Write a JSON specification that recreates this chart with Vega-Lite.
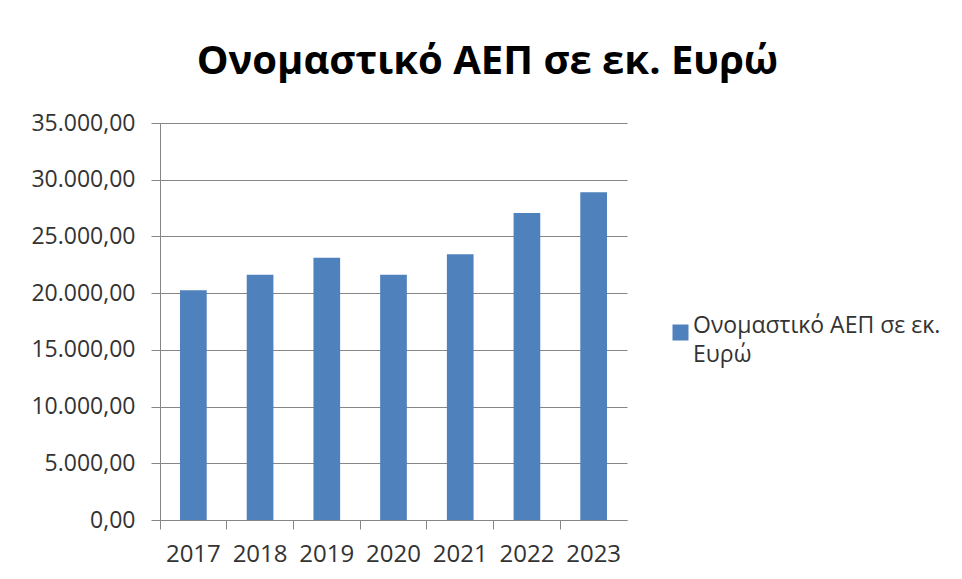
{
  "$schema": "https://vega.github.io/schema/vega-lite/v6.json",
  "width": 467,
  "height": 397,
  "autosize": {"type": "none"},
  "padding": {"left": 160, "top": 123, "right": 335, "bottom": 59},
  "background": "white",
  "config": {
    "locale": {"number": {"decimal": ",", "thousands": ".", "grouping": [3], "currency": ["", " €"]}},
    "view": {"stroke": null},
    "font": "Open Sans",
    "style": {"guide-label": {"lineHeight": 29}}
  },
  "title": {
    "text": "Ονομαστικό ΑΕΠ σε εκ. Ευρώ",
    "font": "Open Sans",
    "fontSize": 40,
    "fontWeight": "bold",
    "color": "#000000",
    "anchor": "middle",
    "frame": "group",
    "dx": 94,
    "baseline": "alphabetic",
    "offset": -2
  },
  "data": {
    "values": [
      {"year": "2017", "value": 20250, "series": "Ονομαστικό ΑΕΠ σε εκ. Ευρώ"},
      {"year": "2018", "value": 21630, "series": "Ονομαστικό ΑΕΠ σε εκ. Ευρώ"},
      {"year": "2019", "value": 23130, "series": "Ονομαστικό ΑΕΠ σε εκ. Ευρώ"},
      {"year": "2020", "value": 21630, "series": "Ονομαστικό ΑΕΠ σε εκ. Ευρώ"},
      {"year": "2021", "value": 23420, "series": "Ονομαστικό ΑΕΠ σε εκ. Ευρώ"},
      {"year": "2022", "value": 27060, "series": "Ονομαστικό ΑΕΠ σε εκ. Ευρώ"},
      {"year": "2023", "value": 28890, "series": "Ονομαστικό ΑΕΠ σε εκ. Ευρώ"}
    ]
  },
  "mark": {"type": "bar", "width": {"band": 0.4}},
  "encoding": {
    "x": {
      "field": "year",
      "type": "ordinal",
      "scale": {"paddingInner": 0, "paddingOuter": 0},
      "axis": {
        "title": null,
        "labelAngle": 0,
        "labelFont": "Open Sans",
        "labelFontSize": 24,
        "labelColor": "#333333",
        "labelPadding": 13,
        "tickSize": 9,
        "tickColor": "#868686",
        "domainColor": "#868686",
        "bandPosition": 0,
        "grid": false
      }
    },
    "y": {
      "field": "value",
      "type": "quantitative",
      "scale": {"domain": [0, 35000], "nice": false},
      "axis": {
        "title": null,
        "values": [0, 5000, 10000, 15000, 20000, 25000, 30000, 35000],
        "format": ",.2f",
        "labelFont": "Open Sans",
        "labelFontSize": 23,
        "labelColor": "#333333",
        "labelPadding": 16,
        "tickSize": 9,
        "tickColor": "#868686",
        "domainColor": "#868686",
        "gridColor": "#868686",
        "grid": true
      }
    },
    "color": {
      "field": "series",
      "type": "nominal",
      "scale": {"range": ["#4f81bd"]},
      "legend": {
        "title": null,
        "orient": "none",
        "legendX": 509,
        "legendY": 198,
        "symbolType": "square",
        "symbolSize": 256,
        "symbolStrokeWidth": 0,
        "labelFont": "Open Sans",
        "labelFontSize": 23,
        "labelColor": "#333333",
        "labelOffset": 1,
        "labelLimit": 400,
        "labelBaseline": "alphabetic",
        "labelExpr": "['Ονομαστικό ΑΕΠ σε εκ.', 'Ευρώ']"
      }
    }
  }
}
